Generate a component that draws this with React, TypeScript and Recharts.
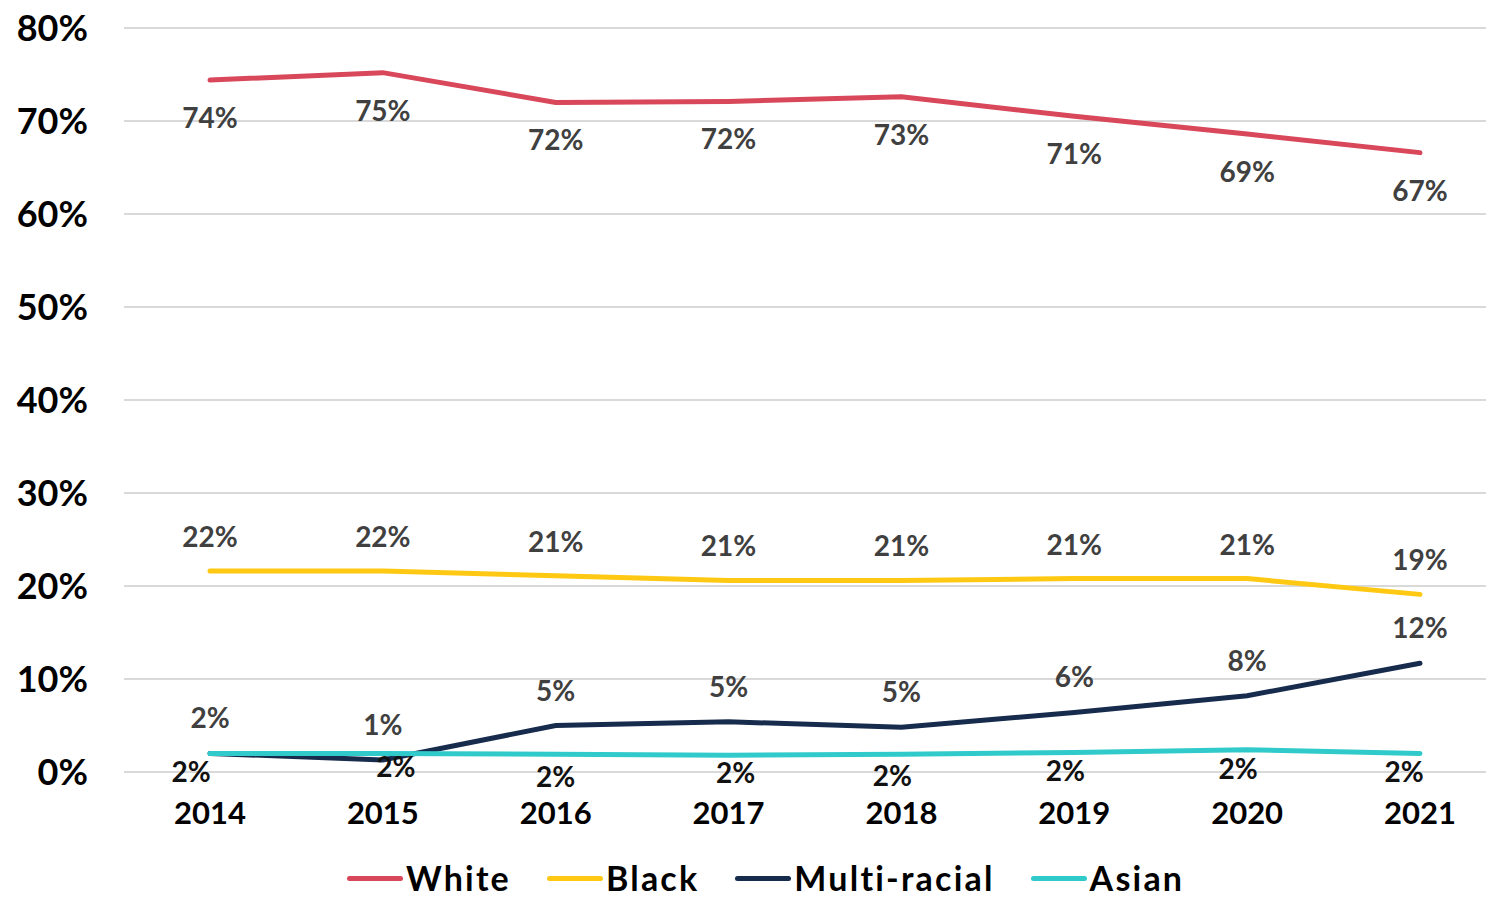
import React from "react";
import { CartesianGrid, LabelList, Legend, Line, LineChart, XAxis, YAxis } from "recharts";

const years = ["2014", "2015", "2016", "2017", "2018", "2019", "2020", "2021"];
const white = [74.4, 75.2, 72.0, 72.1, 72.6, 70.5, 68.6, 66.6];
const black = [21.6, 21.6, 21.1, 20.6, 20.6, 20.8, 20.8, 19.1];
const multiRacial = [2.0, 1.3, 5.0, 5.4, 4.8, 6.4, 8.2, 11.7];
const asian = [2.0, 2.0, 1.9, 1.8, 1.9, 2.1, 2.4, 2.0];
const yTicks = [0, 10, 20, 30, 40, 50, 60, 70, 80];

// hand nudges for the asian labels so they don't sit on the other line
const asianNudge = [
  [-19, 18], [13, 13], [0, 22], [7, 17], [-9, 21], [-9, 18], [-9, 18], [-16, 18],
];

const series = [
  { key: "white", name: "White", color: "#D9475A" },
  { key: "black", name: "Black", color: "#FFC813" },
  { key: "multi", name: "Multi-racial", color: "#172B4D" },
  { key: "asian", name: "Asian", color: "#30CACB" },
];

const data = years.map((year, i) => ({
  year,
  white: white[i],
  black: black[i],
  multi: multiRacial[i],
  asian: asian[i],
}));

const FONT = "Lato, 'DejaVu Sans', sans-serif";
const pct = (v: number) => `${Math.round(v)}%`;

const labelStyle = { fontFamily: FONT, fontSize: 28, fontWeight: 700 };

const AsianLabel = (props: any) => {
  const { x, y, value, index } = props;
  const [dx, dy] = asianNudge[index] ?? [0, 18];
  return (
    <text
      x={x + dx}
      y={y + dy}
      textAnchor="middle"
      dominantBaseline="central"
      fill="#111"
      style={labelStyle}
    >
      {pct(value)}
    </text>
  );
};

const renderLegend = () => (
  <div
    style={{
      display: "flex",
      alignItems: "center",
      height: 46,
      paddingTop: 4,
      paddingLeft: 347,
      gap: 36,
      boxSizing: "border-box",
    }}
  >
    {series.map((s) => (
      <div key={s.key} style={{ display: "flex", alignItems: "center", height: 30 }}>
        <span
          style={{
            display: "inline-block",
            width: 56,
            height: 5,
            borderRadius: 3,
            background: s.color,
            marginRight: 3,
          }}
        />
        <span
          style={{
            fontFamily: FONT,
            fontSize: 34,
            lineHeight: "30px",
            fontWeight: 700,
            letterSpacing: 2.2,
            color: "#000",
          }}
        >
          {s.name}
        </span>
      </div>
    ))}
  </div>
);

export default function App() {
  return (
    <div style={{ width: 1486, height: 899, background: "#fff" }}>
      <style>{`body{margin:0}`}</style>
      <LineChart width={1486} height={899} data={data} margin={{ top: 28, right: 0, left: 0, bottom: 0 }}>
        <CartesianGrid horizontal vertical={false} stroke="#D9D9D9" strokeWidth={2} />
        <XAxis
          dataKey="year"
          scale="point"
          padding={{ left: 86, right: 66 }}
          axisLine={false}
          tickLine={false}
          tickSize={0}
          tickMargin={30}
          height={81}
          interval={0}
          tick={{ fill: "#000", fontFamily: FONT, fontSize: 31, fontWeight: 700 }}
        />
        <YAxis
          domain={[0, 80]}
          ticks={yTicks}
          width={124}
          axisLine={false}
          tickLine={false}
          tickSize={0}
          tickMargin={36}
          tickFormatter={(v) => `${v}%`}
          tick={{ fill: "#000", fontFamily: FONT, fontSize: 36, fontWeight: 700 }}
        />
        <Legend verticalAlign="bottom" height={46} content={renderLegend} />
        <Line
          type="linear"
          dataKey="white"
          name="White"
          stroke="#D9475A"
          strokeWidth={5}
          strokeLinecap="round"
          dot={false}
          isAnimationActive={false}
        >
          <LabelList dataKey="white" position="bottom" offset={28} formatter={pct} fill="#404040" style={labelStyle} />
        </Line>
        <Line
          type="linear"
          dataKey="black"
          name="Black"
          stroke="#FFC813"
          strokeWidth={5}
          strokeLinecap="round"
          dot={false}
          isAnimationActive={false}
        >
          <LabelList dataKey="black" position="top" offset={24} formatter={pct} fill="#404040" style={labelStyle} />
        </Line>
        <Line
          type="linear"
          dataKey="multi"
          name="Multi-racial"
          stroke="#172B4D"
          strokeWidth={5}
          strokeLinecap="round"
          dot={false}
          isAnimationActive={false}
        >
          <LabelList dataKey="multi" position="top" offset={25} formatter={pct} fill="#404040" style={labelStyle} />
        </Line>
        <Line
          type="linear"
          dataKey="asian"
          name="Asian"
          stroke="#30CACB"
          strokeWidth={5}
          strokeLinecap="round"
          dot={false}
          isAnimationActive={false}
        >
          <LabelList dataKey="asian" content={AsianLabel} />
        </Line>
      </LineChart>
    </div>
  );
}
